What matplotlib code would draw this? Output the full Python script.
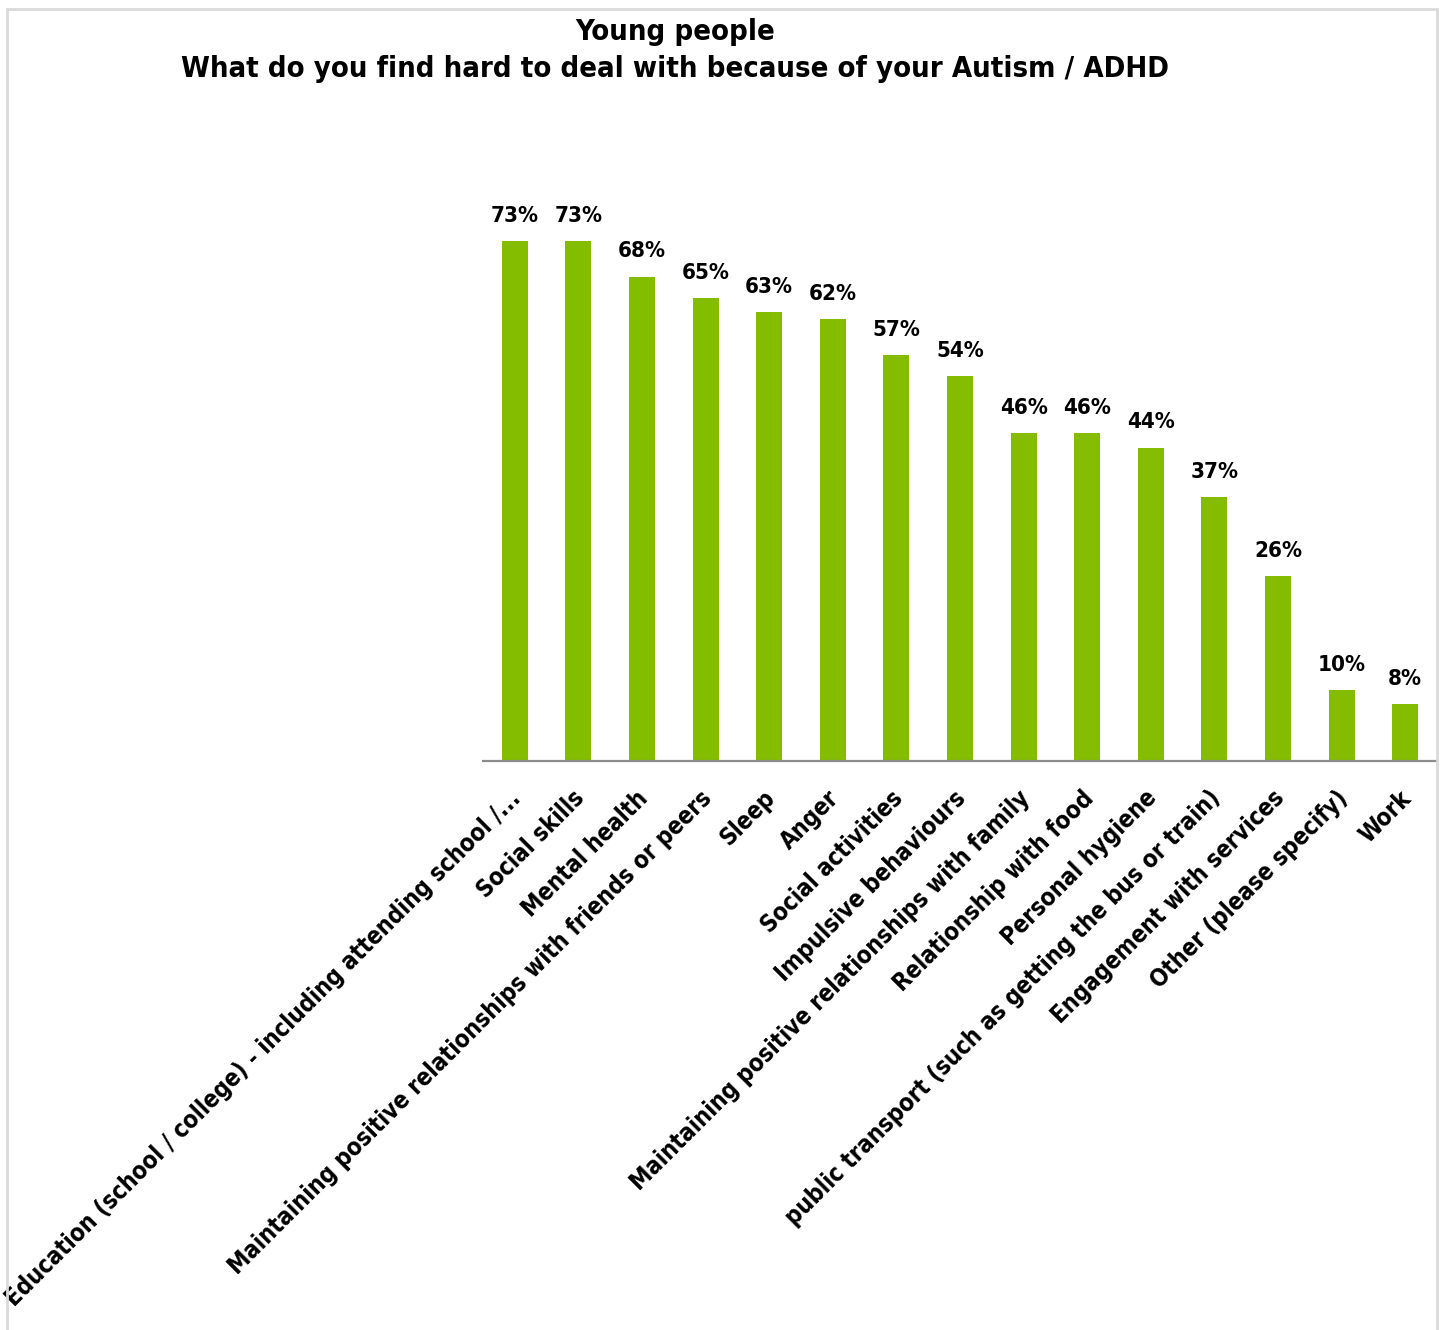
import matplotlib.pyplot as plt
from matplotlib.patches import Rectangle
from matplotlib.transforms import ScaledTranslation

categories = [
    "Education (school / college) - including attending school /...",
    "Social skills",
    "Mental health",
    "Maintaining positive relationships with friends or peers",
    "Sleep",
    "Anger",
    "Social activities",
    "Impulsive behaviours",
    "Maintaining positive relationships with family",
    "Relationship with food",
    "Personal hygiene",
    "public transport (such as getting the bus or train)",
    "Engagement with services",
    "Other (please specify)",
    "Work",
]
values = [73, 73, 68, 65, 63, 62, 57, 54, 46, 46, 44, 37, 26, 10, 8]

bar_color = "#84BC00"
font = dict(family="DejaVu Sans", stretch="condensed", weight="bold")

fig = plt.figure(figsize=(14.44, 13.30), dpi=100)
fig.patch.set_facecolor("white")

# light grey chart border
fig.patches.append(Rectangle((7 / 1444, -0.01), 1430 / 1444, 1 - 9 / 1330 + 0.01,
                             transform=fig.transFigure, fill=False,
                             edgecolor="#D9D9D9", linewidth=2))

ax = fig.add_axes([483 / 1444, 1 - 761 / 1330, 954 / 1444, 631 / 1330])
x = range(len(categories))
ax.bar(x, values, width=0.41, color=bar_color)
ax.set_xlim(-0.5, len(categories) - 0.5)
ax.set_ylim(0, 88.6)

for xi, v in zip(x, values):
    ax.annotate(f"{v}%", (xi, v), xytext=(0, 11), textcoords="offset points",
                ha="center", va="bottom", fontsize=16, **font)

ax.set_xticks(list(x))
ax.set_xticklabels(categories, rotation=45, ha="right", va="top",
                   rotation_mode="anchor", fontsize=17.2, **font)
ax.tick_params(axis="x", length=0, pad=18)
# nudge the slanted labels a little to the left
shift = ScaledTranslation(-6 / 100, 0, fig.dpi_scale_trans)
for lbl in ax.get_xticklabels():
    lbl.set_transform(lbl.get_transform() + shift)
ax.set_yticks([])
for side in ["top", "right", "left"]:
    ax.spines[side].set_visible(False)
ax.spines["bottom"].set_color("#8C8C8C")
ax.spines["bottom"].set_linewidth(1.6)

fig.text(675 / 1444, 1 - 32 / 1330, "Young people", ha="center", va="center",
         fontsize=21, **font)
fig.text(675 / 1444, 1 - 69 / 1330,
         "What do you find hard to deal with because of your Autism / ADHD",
         ha="center", va="center", fontsize=21, **font)

fig.savefig("out.png", dpi=100)
